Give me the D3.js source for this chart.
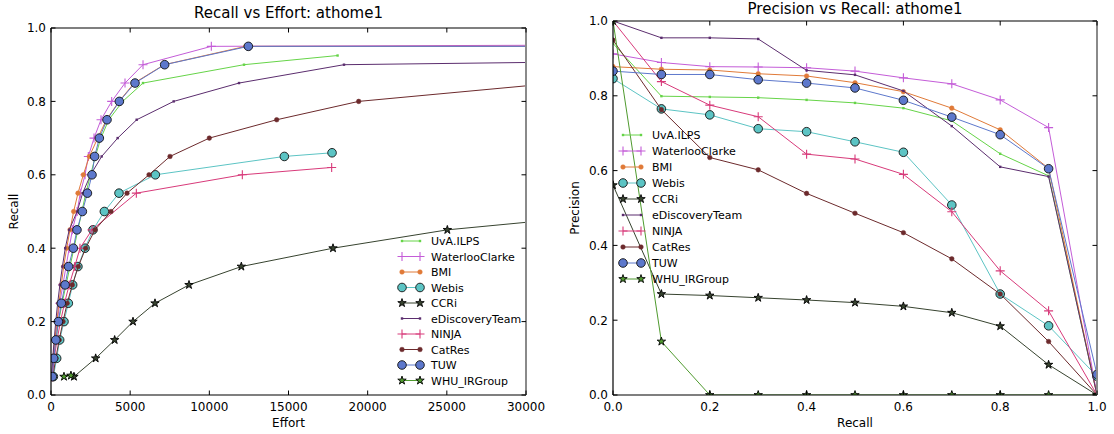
<!DOCTYPE html>
<html>
<head>
<meta charset="utf-8">
<script src="https://cdn.jsdelivr.net/npm/d3@7"></script>
<style>
  html, body { margin: 0; padding: 0; background: #fff; }
  svg { display: block; font-family: "DejaVu Sans", sans-serif; }
</style>
</head>
<body>
<svg id="chart" width="1114" height="434"></svg>
<script>
// ---- teams and styles ----
const teams = ["UvA.ILPS", "WaterlooClarke", "BMI", "Webis", "CCRi",
               "eDiscoveryTeam", "NINJA", "CatRes", "TUW", "WHU_IRGroup"];
const teamColors = ["#66d448", "#c45cd8", "#e07a38", "#5cc4c4", "#37432f",
                    "#5b2d6e", "#d83a7a", "#6c2a2c", "#5d78cc", "#4f9a2e"];
const teamMarkers = ["pixel", "plus", "dot", "circle", "star",
                     "pixel", "plus", "dot", "circle", "star"];

// ---- Recall vs Effort (effort, recall) ----
const effortUvA = [70, 180, 320, 480, 700, 950, 1200, 1450, 1700, 1950, 2200, 2500, 2800, 3150, 3650, 4527, 5811, 12190, 18100];
const recallUvA = [0.05, 0.1, 0.15, 0.2, 0.25, 0.3, 0.35, 0.4, 0.45, 0.5, 0.55, 0.6, 0.65, 0.7, 0.75, 0.8, 0.85, 0.9, 0.925];
const effortWaterloo = [60, 130, 250, 400, 550, 750, 950, 1150, 1350, 1650, 1850, 2150, 2358, 2716, 3158, 3832, 4674, 5811, 10126, 80000];
const recallWaterloo = [0.05, 0.1, 0.15, 0.2, 0.25, 0.3, 0.35, 0.4, 0.45, 0.5, 0.55, 0.6, 0.65, 0.7, 0.75, 0.8, 0.85, 0.9, 0.95, 0.96];
const effortBMI = [50, 130, 250, 370, 500, 650, 800, 990, 1200, 1430, 1705, 2042, 2421, 2950, 3500, 4300, 5250, 7150, 12300, 60000];
const recallBMI = [0.05, 0.1, 0.15, 0.2, 0.25, 0.3, 0.35, 0.4, 0.45, 0.5, 0.55, 0.6, 0.65, 0.7, 0.75, 0.8, 0.85, 0.9, 0.95, 0.95];
const effortWebis = [150, 358, 547, 821, 1094, 1368, 1700, 2150, 2650, 3370, 4295, 6590, 14737, 17750];
const recallWebis = [0.05, 0.1, 0.15, 0.2, 0.25, 0.3, 0.35, 0.4, 0.45, 0.5, 0.55, 0.6, 0.65, 0.66];
const effortCCRi = [1450, 2821, 4021, 5179, 6568, 8716, 12021, 17811, 25032, 37150];
const recallCCRi = [0.05, 0.1, 0.15, 0.2, 0.25, 0.3, 0.35, 0.4, 0.45, 0.5];
const effortEDT = [40, 110, 200, 300, 420, 560, 720, 900, 1150, 1650, 2000, 2500, 3200, 4211, 5411, 7749, 11874, 18505, 114000];
const recallEDT = [0.05, 0.1, 0.15, 0.2, 0.25, 0.3, 0.35, 0.4, 0.45, 0.5, 0.55, 0.6, 0.65, 0.7, 0.75, 0.8, 0.85, 0.9, 0.95];
const effortNINJA = [80, 200, 380, 600, 850, 1150, 1500, 1830, 2590, 5390, 12084, 17726];
const recallNINJA = [0.05, 0.1, 0.15, 0.2, 0.25, 0.3, 0.35, 0.4, 0.45, 0.55, 0.6, 0.62];
const effortCatRes = [120, 300, 520, 760, 1020, 1347, 1726, 2189, 2779, 3790, 4800, 6190, 7516, 10000, 14254, 19432, 31900];
const recallCatRes = [0.05, 0.1, 0.15, 0.2, 0.25, 0.3, 0.35, 0.4, 0.45, 0.5, 0.55, 0.6, 0.65, 0.7, 0.75, 0.8, 0.85];
const effortTUW = [84, 170, 305, 463, 653, 890, 1110, 1410, 1640, 1980, 2300, 2590, 2758, 3053, 3537, 4316, 5305, 7179, 12463, 60000];
const recallTUW = [0.05, 0.1, 0.15, 0.2, 0.25, 0.3, 0.35, 0.4, 0.45, 0.5, 0.55, 0.6, 0.65, 0.7, 0.75, 0.8, 0.85, 0.9, 0.95, 0.95];
const effortWHU = [820, 1260];
const recallWHU = [0.05, 0.053];

const effortSeries = [effortUvA, effortWaterloo, effortBMI, effortWebis, effortCCRi,
                      effortEDT, effortNINJA, effortCatRes, effortTUW, effortWHU];
const recallSeries = [recallUvA, recallWaterloo, recallBMI, recallWebis, recallCCRi,
                      recallEDT, recallNINJA, recallCatRes, recallTUW, recallWHU];

// ---- Precision vs Recall (interpolated precision at 11 recall levels) ----
const recallGrid = [0, 0.1, 0.2, 0.3, 0.4, 0.5, 0.6, 0.7, 0.8, 0.9, 1.0];
const precUvA      = [0.94, 0.799, 0.797, 0.795, 0.789, 0.781, 0.767, 0.733, 0.645, 0.586, 0];
const precWaterloo = [0.912, 0.889, 0.878, 0.877, 0.875, 0.866, 0.848, 0.832, 0.789, 0.715, 0];
const precBMI      = [0.878, 0.871, 0.869, 0.859, 0.853, 0.835, 0.811, 0.767, 0.709, 0.606, 0];
const precWebis    = [0.846, 0.765, 0.749, 0.712, 0.704, 0.677, 0.649, 0.508, 0.270, 0.185, 0.05];
const precCCRi     = [0.561, 0.270, 0.266, 0.260, 0.254, 0.247, 0.237, 0.220, 0.184, 0.081, 0];
const precEDT      = [1.0, 0.955, 0.955, 0.952, 0.868, 0.856, 0.813, 0.719, 0.610, 0.584, 0];
const precNINJA    = [1.0, 0.838, 0.775, 0.744, 0.644, 0.631, 0.590, 0.490, 0.332, 0.225, 0];
const precCatRes   = [0.949, 0.763, 0.635, 0.602, 0.539, 0.486, 0.434, 0.364, 0.270, 0.143, 0];
const precTUW      = [0.866, 0.857, 0.857, 0.843, 0.834, 0.821, 0.788, 0.743, 0.696, 0.605, 0.055];
const precWHU      = [1.0, 0.143, 0, 0, 0, 0, 0, 0, 0, 0, 0];
const precisionSeries = [precUvA, precWaterloo, precBMI, precWebis, precCCRi,
                         precEDT, precNINJA, precCatRes, precTUW, precWHU];

// ---- tick labels ----
const effortTicks = [0, 5000, 10000, 15000, 20000, 25000, 30000];
const unitTicks = [0, 0.2, 0.4, 0.6, 0.8, 1.0];

const svg = d3.select("#chart");

function drawMarker(g, kind, color, x, y) {
  if (kind === "pixel") {
    g.append("rect").attr("x", x - 1.2).attr("y", y - 1.2).attr("width", 2.4).attr("height", 2.4)
      .attr("fill", color);
  } else if (kind === "dot") {
    g.append("circle").attr("cx", x).attr("cy", y).attr("r", 2.3)
      .attr("fill", color).attr("stroke", color).attr("stroke-width", 0.5);
  } else if (kind === "circle") {
    g.append("circle").attr("cx", x).attr("cy", y).attr("r", 4.3)
      .attr("fill", color).attr("stroke", "#111").attr("stroke-width", 0.9);
  } else if (kind === "plus") {
    g.append("path").attr("d", `M${x - 4.5},${y}H${x + 4.5}M${x},${y - 4.5}V${y + 4.5}`)
      .attr("stroke", color).attr("stroke-width", 1.1).attr("fill", "none");
  } else if (kind === "star") {
    g.append("path").attr("transform", `translate(${x},${y})`)
      .attr("d", d3.symbol(d3.symbolStar, 22)())
      .attr("fill", color).attr("stroke", "#000").attr("stroke-width", 0.9);
  }
}

function drawPanel(opts) {
  const { id, x, y, xs, ys, xTicks, yTicks, xFmt, yFmt, title, titleY, xLabel, yLabel, yLabelX, legend } = opts;
  const [x0, x1] = x.range();
  const [y0, y1] = y.range(); // y0 bottom, y1 top
  const g = svg.append("g");

  const clipId = "clip-" + id;
  svg.append("clipPath").attr("id", clipId)
    .append("rect").attr("x", x0).attr("y", y1).attr("width", x1 - x0).attr("height", y0 - y1);

  const plot = g.append("g").attr("clip-path", `url(#${clipId})`);
  const line = d3.line().x(d => x(d[0])).y(d => y(d[1]));

  teams.forEach((team, i) => {
    const pts = xs[i].map((v, k) => [v, ys[i][k]]);
    const s = plot.append("g");
    s.append("path").datum(pts).attr("d", line)
      .attr("fill", "none").attr("stroke", teamColors[i]).attr("stroke-width", 1);
    pts.forEach(p => drawMarker(s, teamMarkers[i], teamColors[i], x(p[0]), y(p[1])));
  });

  // frame
  g.append("line").attr("x1", x0).attr("x2", x0).attr("y1", y1).attr("y2", y0).attr("stroke", "#000").attr("stroke-width", 1.2);
  g.append("line").attr("x1", x0).attr("x2", x1).attr("y1", y0).attr("y2", y0).attr("stroke", "#000").attr("stroke-width", 1.2);
  g.append("line").attr("x1", x0).attr("x2", x1).attr("y1", y1).attr("y2", y1).attr("stroke", "#000").attr("stroke-width", 1.2);
  g.append("line").attr("x1", x1).attr("x2", x1).attr("y1", y1).attr("y2", y0).attr("stroke", "#8a8a8a").attr("stroke-width", 2);

  // inward ticks on all four sides, labels bottom and left
  const tk = 4.5;
  xTicks.forEach(t => {
    const px = x(t);
    g.append("line").attr("x1", px).attr("x2", px).attr("y1", y0).attr("y2", y0 - tk).attr("stroke", "#000");
    g.append("line").attr("x1", px).attr("x2", px).attr("y1", y1).attr("y2", y1 + tk).attr("stroke", "#000");
    g.append("text").attr("x", px).attr("y", y0 + 16).attr("text-anchor", "middle")
      .attr("font-size", 12).attr("fill", "#000").text(xFmt(t));
  });
  yTicks.forEach(t => {
    const py = y(t);
    g.append("line").attr("x1", x0).attr("x2", x0 + tk).attr("y1", py).attr("y2", py).attr("stroke", "#000");
    g.append("line").attr("x1", x1).attr("x2", x1 - tk).attr("y1", py).attr("y2", py).attr("stroke", "#000");
    g.append("text").attr("x", x0 - 5).attr("y", py + 4.3).attr("text-anchor", "end")
      .attr("font-size", 12).attr("fill", "#000").text(yFmt(t));
  });

  g.append("text").attr("x", (x0 + x1) / 2).attr("y", titleY).attr("text-anchor", "middle")
    .attr("font-size", 15).attr("fill", "#000").text(title);
  g.append("text").attr("x", (x0 + x1) / 2).attr("y", y0 + 32).attr("text-anchor", "middle")
    .attr("font-size", 12).attr("fill", "#000").text(xLabel);
  g.append("text").attr("transform", `translate(${yLabelX},${(y0 + y1) / 2}) rotate(-90)`)
    .attr("text-anchor", "middle").attr("font-size", 12).attr("fill", "#000").text(yLabel);

  // legend: two markers joined by a short line, no frame
  const lg = g.append("g");
  teams.forEach((team, i) => {
    const cy = legend.y + i * legend.step;
    lg.append("line").attr("x1", legend.x).attr("x2", legend.x + 18).attr("y1", cy).attr("y2", cy)
      .attr("stroke", teamColors[i]).attr("stroke-width", 1);
    drawMarker(lg, teamMarkers[i], teamColors[i], legend.x, cy);
    drawMarker(lg, teamMarkers[i], teamColors[i], legend.x + 18, cy);
    lg.append("text").attr("x", legend.x + 29).attr("y", cy + 4).attr("font-size", 11)
      .attr("fill", "#000").text(team);
  });
}

const xEffort = d3.scaleLinear().domain([0, 30000]).range([51, 526]);
const yRecall = d3.scaleLinear().domain([0, 1]).range([395, 28]);
drawPanel({
  id: "effort", x: xEffort, y: yRecall,
  xs: effortSeries, ys: recallSeries,
  xTicks: effortTicks, yTicks: unitTicks,
  xFmt: d3.format("d"), yFmt: d3.format(".1f"),
  title: "Recall vs Effort: athome1", titleY: 18,
  xLabel: "Effort", yLabel: "Recall", yLabelX: 18,
  legend: { x: 402, y: 241, step: 15.5 }
});

const xRecall = d3.scaleLinear().domain([0, 1]).range([613, 1097]);
const yPrecision = d3.scaleLinear().domain([0, 1]).range([395, 21]);
drawPanel({
  id: "precision", x: xRecall, y: yPrecision,
  xs: precisionSeries.map(() => recallGrid), ys: precisionSeries,
  xTicks: unitTicks, yTicks: unitTicks,
  xFmt: d3.format(".1f"), yFmt: d3.format(".1f"),
  title: "Precision vs Recall: athome1", titleY: 14,
  xLabel: "Recall", yLabel: "Precision", yLabelX: 579,
  legend: { x: 623, y: 135, step: 16 }
});
</script>
</body>
</html>
